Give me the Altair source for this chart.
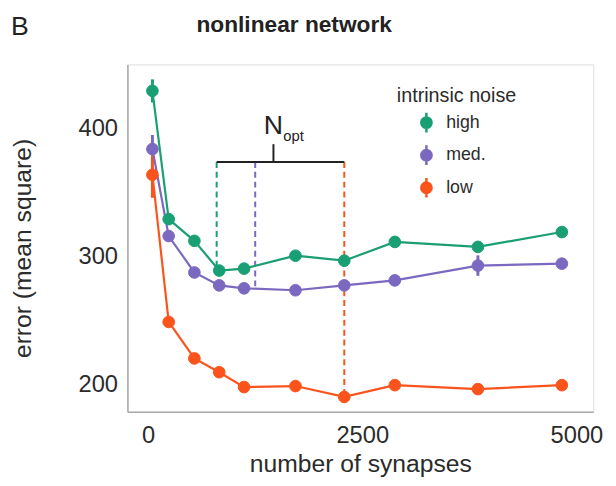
import altair as alt
import pandas as pd

# ---- data ----
synapses = [50, 240, 540, 830, 1120, 1720, 2290, 2880, 3850, 4830]
err_high = [429.3, 329.0, 312.0, 288.8, 290.3, 300.4, 296.5, 311.2, 307.3, 318.9]
err_med = [383.8, 315.8, 287.3, 277.2, 274.9, 273.4, 277.2, 281.1, 292.7, 294.2]
err_low = [363.7, 248.6, 220.1, 209.3, 197.7, 198.5, 190.0, 199.2, 196.1, 199.2]
sem_high = [9, 2, 2, 2, 2, 2, 2, 2, 2, 2]
sem_med = [11, 2, 2, 2, 2, 2, 2, 2, 8, 2]
sem_low = [18, 2, 2, 2, 2, 2, 2, 2, 2, 2]

levels = ["high", "med.", "low"]
colors = ["#1a9e74", "#7b68c0", "#fa541c"]

# optimal N (dashed lines) and bracket
nopt_level = ["high", "med.", "low"]
nopt_x = [800, 1250, 2290]
nopt_end = [292, 275, 190]
bracket_y = 373.7
bracket_tick_top = 387.6
bracket_mid = 1463

rows = []
for lvl, ys, es in zip(levels, [err_high, err_med, err_low], [sem_high, sem_med, sem_low]):
    for x, y, e in zip(synapses, ys, es):
        rows.append({"n": x, "err": y, "lo": y - e, "hi": y + e, "noise": lvl})
df = pd.DataFrame(rows)

dash_df = pd.DataFrame({"n": nopt_x, "top": [bracket_y] * 3, "bottom": nopt_end, "noise": nopt_level})
bracket_df = pd.DataFrame({"x1": [min(nopt_x)], "x2": [max(nopt_x)], "y": [bracket_y]})
tick_df = pd.DataFrame({"x": [bracket_mid], "y1": [bracket_y], "y2": [bracket_tick_top]})
label_df = pd.DataFrame({"x": [bracket_mid], "y": [395.4]})
sub_df = pd.DataFrame({"x": [1578], "y": [390]})

FONT = "Liberation Sans"
TXT = "#2b2b2b"

xscale = alt.Scale(domain=[-242, 5196], nice=False, zero=False)
yscale = alt.Scale(domain=[178.4, 450], nice=False, zero=False)
cscale = alt.Scale(domain=levels, range=colors)

xaxis = alt.Axis(values=[0, 2500, 5000], format="d", title="number of synapses", grid=False, ticks=False,
                 labelPadding=12, labelFontSize=24, titleFontSize=25, titleFontWeight="normal",
                 titleY=61, titleBaseline="alphabetic", domainColor="#aaaaaa", domainWidth=1.5,
                 labelColor=TXT, titleColor=TXT, labelFont=FONT, titleFont=FONT)
yaxis = alt.Axis(values=[200, 300, 400], format="d", title="error (mean square)", grid=False, ticks=False,
                 labelPadding=10, labelFontSize=24, titleFontSize=25, titleFontWeight="normal",
                 titleX=-106, titleY=186, titleBaseline="middle", titleAlign="center", titleAngle=270,
                 domainColor="#aaaaaa", domainWidth=1.5,
                 labelColor=TXT, titleColor=TXT, labelFont=FONT, titleFont=FONT)

x = alt.X("n:Q", scale=xscale, axis=xaxis)
y = alt.Y("err:Q", scale=yscale, axis=yaxis)

# legend key: filled dot with a vertical error bar through it
sym_path = "M-1,0A1,1 0 1,0 1,0A1,1 0 1,0 -1,0ZM0,-1.9L0,1.9"
legend = alt.Legend(title="intrinsic noise", orient="none", legendX=273, legendY=22,
                    titleFontSize=20, titleFontWeight="normal", titleFont=FONT, titleColor=TXT,
                    labelFontSize=18, labelFont=FONT, labelColor=TXT, symbolType=sym_path,
                    symbolSize=110, symbolStrokeWidth=2.5, symbolOffset=21, labelOffset=11,
                    rowPadding=3, titlePadding=8)
color = alt.Color("noise:N", scale=cscale, legend=legend, sort=levels)

base = alt.Chart(df)

errbars = base.mark_rule(strokeWidth=3).encode(
    x=x, y=alt.Y("lo:Q", scale=yscale), y2="hi:Q", color=color,
)
lines = base.mark_line(strokeWidth=2.2).encode(
    x=x, y=y, color=color, detail="noise:N",
)
points = base.mark_point(filled=True, size=140, opacity=1, strokeWidth=1).encode(
    x=x, y=y, color=color,
    stroke=alt.Stroke("noise:N", scale=cscale, legend=legend, sort=levels),
)

dashes = alt.Chart(dash_df).mark_rule(strokeWidth=2, strokeDash=[6, 4]).encode(
    x=alt.X("n:Q", scale=xscale), y=alt.Y("top:Q", scale=yscale), y2="bottom:Q", color=color,
)
bracket = alt.Chart(bracket_df).mark_rule(strokeWidth=2, color="#222222").encode(
    x=alt.X("x1:Q", scale=xscale), x2="x2:Q", y=alt.Y("y:Q", scale=yscale),
)
btick = alt.Chart(tick_df).mark_rule(strokeWidth=2, color="#222222").encode(
    x=alt.X("x:Q", scale=xscale), y=alt.Y("y1:Q", scale=yscale), y2="y2:Q",
)
ntext = alt.Chart(label_df).mark_text(text="N", fontSize=27, font=FONT, color="#222222",
                                      align="center", baseline="alphabetic").encode(
    x=alt.X("x:Q", scale=xscale), y=alt.Y("y:Q", scale=yscale),
)
subtext = alt.Chart(sub_df).mark_text(text="opt", fontSize=15, font=FONT, color="#222222",
                                      align="left", baseline="alphabetic").encode(
    x=alt.X("x:Q", scale=xscale), y=alt.Y("y:Q", scale=yscale),
)

one = pd.DataFrame({"k": [0]})
title_txt = alt.Chart(one).mark_text(text="nonlinear network", fontSize=23, fontWeight="bold",
                                     font=FONT, color="#222222", align="center",
                                     baseline="alphabetic").encode(x=alt.value(169), y=alt.value(-33))
panel_txt = alt.Chart(one).mark_text(text="B", fontSize=27, font=FONT, color="#222222",
                                     align="left", baseline="alphabetic").encode(x=alt.value(-118), y=alt.value(-30))

chart = alt.layer(
    dashes, bracket, btick, ntext, subtext, errbars, lines, points, title_txt, panel_txt
).properties(
    width=472, height=352,
    autosize=alt.AutoSizeParams(type="none"),
    padding={"left": 121, "top": 54, "right": 15, "bottom": 64},
).configure_view(stroke=None).configure(background="white")

chart.save("out.html", embed_options={"renderer": "svg", "actions": False})
